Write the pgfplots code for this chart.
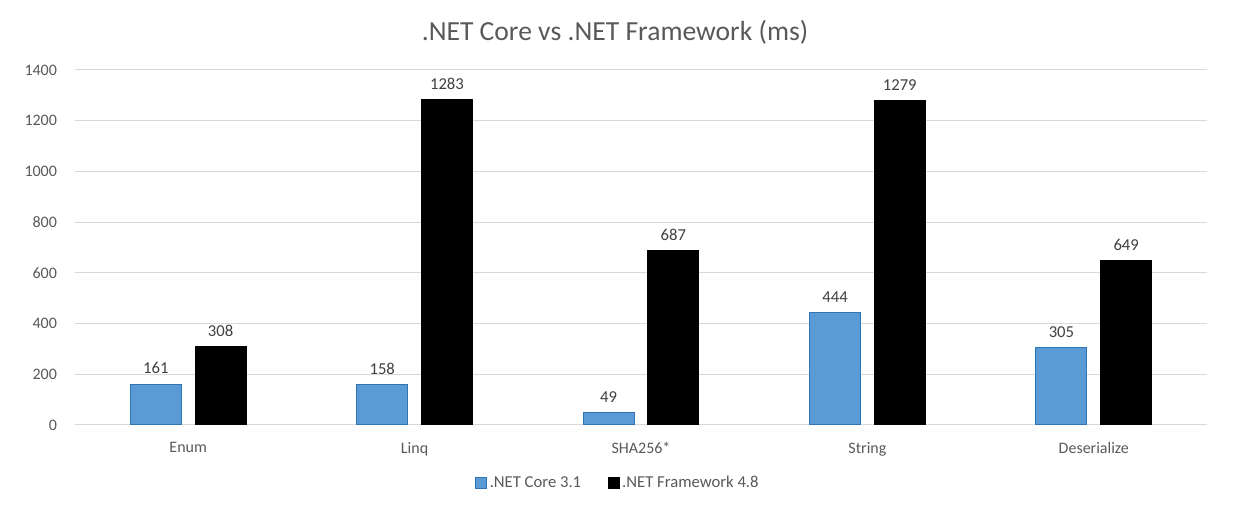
\documentclass[border=0pt]{standalone}
\usepackage{pgfplots}
\pgfplotsset{compat=1.18}
\usepackage{fontspec}
\setmainfont{Carlito}
\definecolor{coreblue}{HTML}{5B9BD5}
\definecolor{coreedge}{HTML}{2E75B6}
\definecolor{gridc}{HTML}{D9D9D9}
\definecolor{tickc}{HTML}{595959}
\definecolor{labc}{HTML}{404040}
\begin{document}
\begin{tikzpicture}
\begin{axis}[
  scale only axis,
  width=849pt, height=266.25pt,
  ybar, bar width=0.225,
  xmin=-0.5, xmax=4.5,
  ymin=0, ymax=1400,
  ytick={0,200,...,1400},
  xtick={0,1,2,3,4},
  xticklabels={Enum,Linq,SHA256*,String,Deserialize},
  ymajorgrids,
  grid style={gridc, line width=0.75pt},
  axis line style={draw=none},
  axis x line*=bottom,
  axis y line*=left,
  major tick length=0pt,
  tick style={draw=none},
  ticklabel style={font=\fontsize{12}{14}\selectfont, text=tickc},
  /pgf/number format/assume math mode=true,
  /pgf/number format/1000 sep={},
  yticklabel style={xshift=-10pt},
  xticklabel style={yshift=-9.5pt},
  title={.NET Core vs .NET Framework (ms)},
  title style={font=\fontsize{20.7}{22}\selectfont, text=tickc, yshift=10pt, xshift=-19.5pt},
  nodes near coords,
  every node near coord/.append style={font=\fontsize{12.5}{14}\selectfont, text=labc, anchor=south, yshift=4pt},
  legend style={at={(0.48,-0.128)}, anchor=north, draw=none, legend columns=2,
    font=\fontsize{12.5}{14}\selectfont, text=tickc,
    /tikz/every even column/.append style={column sep=18pt}},
  legend image code/.code={\draw[#1] (0pt,-4pt) rectangle (8pt,4pt);},
  clip=false,
]
\draw[gridc, line width=0.75pt] (axis cs:-0.5,0) -- (axis cs:4.5,0);
\addplot[bar shift=-0.143, fill=coreblue, draw=coreedge, line width=0.75pt]
  coordinates {(0,161) (1,158) (2,49) (3,444) (4,305)};
\addplot[bar shift=0.143, fill=black, draw=black, line width=0.75pt]
  coordinates {(0,308) (1,1283) (2,687) (3,1279) (4,649)};
\legend{.NET Core 3.1, .NET Framework 4.8}
\end{axis}
\path ([xshift=-56.25pt,yshift=-76.5pt]current axis.south west) rectangle ([xshift=24.75pt,yshift=52.5pt]current axis.north east);
\end{tikzpicture}
\end{document}
